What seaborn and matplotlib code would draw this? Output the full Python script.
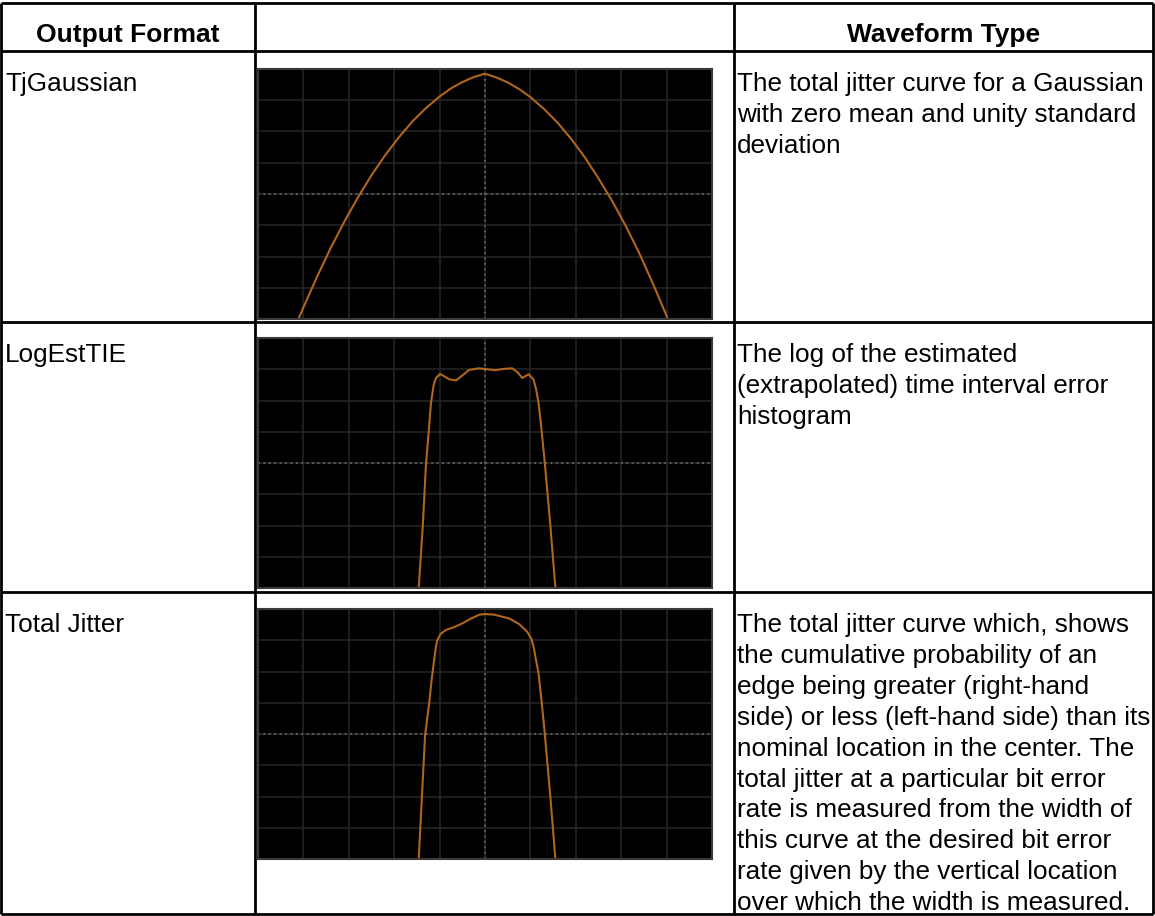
import matplotlib.pyplot as plt
import seaborn as sns
import numpy as np

sns.set_style("white")
plt.rcParams['font.family'] = ['Liberation Sans', 'DejaVu Sans']
plt.rcParams['text.color'] = 'black'

# table text
headers = ['Output Format', '', 'Waveform Type']
formats = ['TjGaussian', 'LogEstTIE', 'Total Jitter']
descriptions = [
    ['The total jitter curve for a Gaussian',
     'with zero mean and unity standard',
     'deviation'],
    ['The log of the estimated',
     '(extrapolated) time interval error',
     'histogram'],
    ['The total jitter curve which, shows',
     'the cumulative probability of an',
     'edge being greater (right-hand',
     'side) or less (left-hand side) than its',
     'nominal location in the center. The',
     'total jitter at a particular bit error',
     'rate is measured from the width of',
     'this curve at the desired bit error',
     'rate given by the vertical location',
     'over which the width is measured.'],
]

# waveforms (divisions: x -5..5, y -4..4)
tj_x = [-4.1, -4.0, -3.7, -3.4, -3.1, -2.8, -2.5, -2.2, -1.9, -1.6, -1.3, -1.0,
        -0.75, -0.5, -0.25, 0.0, 0.25, 0.5, 0.75, 1.0, 1.3, 1.6, 1.9, 2.2, 2.5,
        2.8, 3.1, 3.4, 3.7, 4.0, 4.02]
tj_y = [-3.97, -3.63, -2.65, -1.73, -0.89, -0.11, 0.60, 1.24, 1.81, 2.32, 2.75, 3.12,
        3.38, 3.58, 3.74, 3.85, 3.73, 3.57, 3.36, 3.10, 2.72, 2.28, 1.76, 1.17, 0.50,
        -0.22, -1.02, -1.90, -2.87, -3.90, -4.0]

tie_x = [-1.46, -1.37, -1.30, -1.24, -1.19, -1.13, -1.08, -0.99, -0.88, -0.79, -0.64,
         -0.5, -0.35, -0.13, 0.05, 0.23, 0.40, 0.60, 0.72, 0.82, 0.96, 1.07, 1.12,
         1.18, 1.25, 1.32, 1.44, 1.55]
tie_y = [-4.0, -2.01, -0.04, 1.0, 1.92, 2.5, 2.72, 2.85, 2.76, 2.68, 2.64,
         2.8, 2.98, 3.03, 3.0, 2.97, 3.01, 3.03, 2.9, 2.72, 2.84, 2.67, 2.4,
         1.92, 1.0, -0.04, -2.01, -4.0]

total_x = [-1.46, -1.39, -1.32, -1.23, -1.17, -1.12, -1.08, -1.05, -0.98, -0.86, -0.68,
           -0.5, -0.3, -0.12, 0.0, 0.2, 0.53, 0.75, 0.93, 1.02, 1.07, 1.12, 1.18,
           1.25, 1.32, 1.44, 1.55]
total_y = [-4.0, -2.02, -0.04, 0.98, 1.8, 2.37, 2.8, 3.0, 3.2, 3.33, 3.42,
           3.54, 3.7, 3.82, 3.84, 3.82, 3.7, 3.52, 3.27, 3.05, 2.79, 2.4, 1.94,
           1.0, -0.04, -2.02, -4.0]

waves = [(tj_x, tj_y), (tie_x, tie_y), (total_x, total_y)]

W, H = 1155, 916
col_x = [1, 255, 734, 1153]
row_y = [3, 51, 322, 592, 914]
img_top = [69, 338, 609]
img_left, img_w, img_h = 258, 454, 250
line_gap = 30.9
trace = '#b0661c'

fig = plt.figure(figsize=(11.55, 9.16), dpi=100)
table = fig.add_axes([0, 0, 1, 1])
table.set_xlim(0, W)
table.set_ylim(H, 0)
table.axis('off')
table.hlines(row_y, col_x[0], col_x[-1], color='black', lw=2)
table.vlines(col_x, row_y[0], row_y[-1], color='black', lw=2)

for i, h in enumerate(headers):
    if h:
        cx = (col_x[i] + col_x[i + 1]) / 2
        table.text(cx, 42, h, ha='center', va='baseline', fontsize=19,
                   fontweight='bold', color='black')

for r in range(3):
    top = row_y[r + 1]
    table.text(col_x[0] + 4, top + 40, formats[r], va='baseline', fontsize=18.8, color='black')
    for j, line in enumerate(descriptions[r]):
        table.text(col_x[2] + 3, top + 40 + j * line_gap, line, va='baseline',
                   fontsize=18.8, color='black')

    # scope screen
    ax = fig.add_axes([img_left / W, 1 - (img_top[r] + img_h) / H, img_w / W, img_h / H])
    ax.set_facecolor('black')
    ax.set_xticks(np.arange(-5, 6))
    ax.set_yticks(np.arange(-4, 5))
    ax.grid(True, color='#262626', lw=1.1)
    ax.tick_params(length=0, labelbottom=False, labelleft=False)
    ax.axhline(0, color='#666666', lw=1.3, ls=(0, (1, 2)))
    ax.axvline(0, color='#666666', lw=1.3, ls=(0, (1, 2)))
    for s in ax.spines.values():
        s.set_color('#3a3a3a')
        s.set_linewidth(1.5)
    x, y = waves[r]
    sns.lineplot(x=x, y=y, ax=ax, color=trace, lw=1.5, sort=False, estimator=None)
    ax.set_xlim(-5, 5)
    ax.set_ylim(-4, 4)
    ax.set_xlabel('')
    ax.set_ylabel('')

fig.savefig('out.png', dpi=100)
